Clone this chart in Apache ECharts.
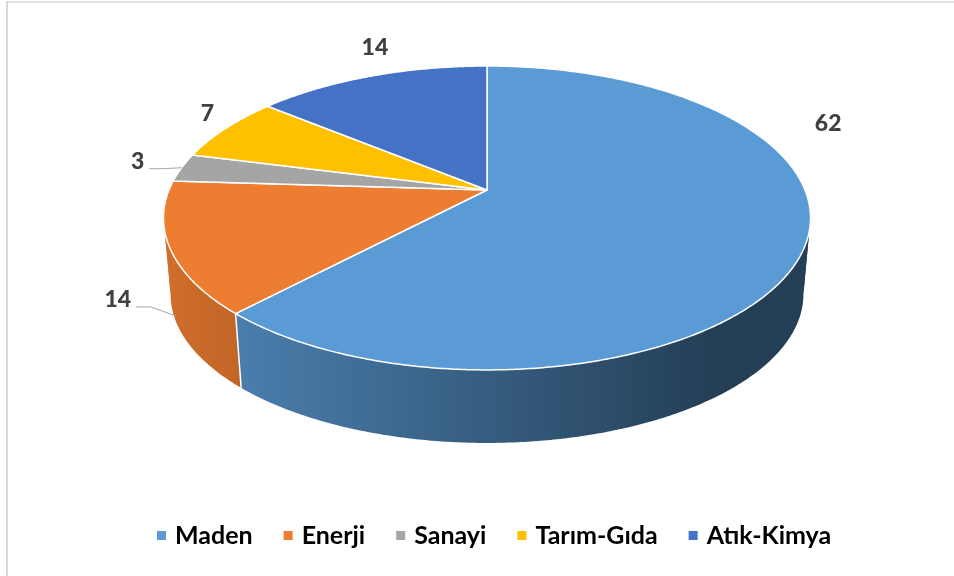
<!DOCTYPE html>
<html>
<head>
<meta charset="utf-8">
<script src="https://cdn.jsdelivr.net/npm/echarts@6/dist/echarts.min.js"></script>
<style>
    html, body { margin: 0; padding: 0; background: #fff; }
    #chart { width: 954px; height: 576px; }
</style>
</head>
<body>
<div id="chart"></div>
<script>
// 数据
const categories = ['Maden', 'Enerji', 'Sanayi', 'Tarım-Gıda', 'Atık-Kimya'];
const values = [62, 14, 3, 7, 14];
const sliceColors = ['#5B9BD5', '#ED7D31', '#A5A5A5', '#FFC000', '#4472C4'];

// label placement relative to the rim point at each slice's mid angle
const labelDx = [24, -52, -44, -18, 4];
const labelDy = [-124, 52, -6, -15, -29];
const leaderAt = [null, 0.9, 0, null, null];

// 3D disc projection
const CX = 487, CY = 190, RX = 318, RY = 146.8, K = 0.184, DROP = 77, SHRINK = 0.978;
const total = values.reduce((a, b) => a + b, 0);
// angles where the rim turns (leftmost / rightmost points)
const TURNS = [Math.acos(-K), 2 * Math.PI - Math.acos(-K)];

function sliceAngles(i) {
    let s = 0;
    for (let j = 0; j < i; j++) s += values[j];
    return [s / total * 2 * Math.PI, (s + values[i]) / total * 2 * Math.PI];
}

function pt(t, bottom) {
    const u = Math.sin(t), v = -Math.cos(t);
    const w = 1 / (1 - K * v);
    const s = bottom ? SHRINK : 1;
    return [CX + RX * u * w * s, CY + (bottom ? DROP : 0) + RY * v * w * s];
}

function arc(a0, a1, bottom) {
    const n = Math.max(2, Math.ceil((a1 - a0) / (Math.PI / 360)));
    const pts = [];
    for (let k = 0; k <= n; k++) pts.push(pt(a0 + (a1 - a0) * k / n, bottom));
    return pts;
}

function shade(hex, f) {
    const n = parseInt(hex.slice(1), 16);
    const r = Math.round(((n >> 16) & 255) * f);
    const g = Math.round(((n >> 8) & 255) * f);
    const b = Math.round((n & 255) * f);
    return 'rgb(' + r + ',' + g + ',' + b + ')';
}

function wallGradient(hex) {
    return new echarts.graphic.LinearGradient(CX - RX * 1.02, 0, CX + RX * 0.73, 0, [
        { offset: 0, color: shade(hex, 0.88) },
        { offset: 1, color: shade(hex, 0.4) }
    ], true);
}

// 侧面
function renderWall(params) {
    const i = params.dataIndex;
    const [a0, a1] = sliceAngles(i);
    const cuts = [a0].concat(TURNS.filter(t => t > a0 && t < a1), [a1]);
    const fill = wallGradient(sliceColors[i]);
    const children = [];
    for (let k = 0; k < cuts.length - 1; k++) {
        const t0 = cuts[k], t1 = cuts[k + 1];
        const vm = -Math.cos((t0 + t1) / 2);
        const pts = arc(t0, t1, false).concat(arc(t0, t1, true).reverse());
        children.push({
            type: 'polygon',
            z2: 2000 + Math.round(vm * 1000),
            shape: { points: pts },
            style: { fill: fill }
        });
    }
    if (-Math.cos(a0) > K) {
        const p = pt(a0, false), q = pt(a0, true);
        children.push({
            type: 'line',
            z2: 3100,
            shape: { x1: p[0], y1: p[1], x2: q[0], y2: q[1] },
            style: { stroke: '#fff', lineWidth: 1.5 }
        });
    }
    return { type: 'group', children: children };
}

// 顶面
function renderTop(params) {
    const i = params.dataIndex;
    const [a0, a1] = sliceAngles(i);
    const points = [[CX, CY]].concat(arc(a0, a1, false));
    return {
        type: 'polygon',
        shape: { points: points },
        style: { fill: sliceColors[i], stroke: '#fff', lineWidth: 1.5, lineJoin: 'round' }
    };
}

// 数据标签
function renderLabel(params) {
    const i = params.dataIndex;
    const [a0, a1] = sliceAngles(i);
    const mid = (a0 + a1) / 2;
    const p = pt(mid, false);
    const x = p[0] + labelDx[i], y = p[1] + labelDy[i];
    const txt = String(values[i]);
    const children = [{
        type: 'text',
        style: {
            text: txt, x: x, y: y, align: 'center', verticalAlign: 'middle',
            fill: '#404040', fontFamily: 'Lato', fontWeight: 900, fontSize: 23
        }
    }];
    if (leaderAt[i] !== null) {
        const q = pt(mid, true);
        const f = leaderAt[i];
        const end = [p[0] + (q[0] - p[0]) * f, p[1] + (q[1] - p[1]) * f];
        const sx = x + txt.length * 6.5 + 5, sy = y + 7;
        children.push({
            type: 'polyline',
            shape: { points: [[sx, sy], [sx + 15, sy], end] },
            style: { stroke: '#a6a6a6', lineWidth: 1, fill: null }
        });
    }
    return { type: 'group', children: children };
}

const chart = echarts.init(document.getElementById('chart'));
chart.setOption({
    animation: false,
    backgroundColor: '#fff',
    graphic: [
        { type: 'line', shape: { x1: 7, y1: 1, x2: 7, y2: 576 }, style: { stroke: '#d9d9d9', lineWidth: 2 } },
        { type: 'line', shape: { x1: 6, y1: 2, x2: 954, y2: 2 }, style: { stroke: '#d9d9d9', lineWidth: 1.5 } }
    ],
    legend: {
        data: categories,
        left: 157,
        top: 523,
        padding: 0,
        icon: 'rect',
        itemWidth: 9,
        itemHeight: 9,
        itemGap: 31,
        selectedMode: false,
        textStyle: {
            fontFamily: 'Lato',
            fontWeight: 'bold',
            fontSize: 25,
            color: '#000',
            padding: [0, 0, 0, 4]
        }
    },
    series: [
        {
            // legend only
            type: 'pie',
            radius: [0, 0],
            center: [CX, CY],
            silent: true,
            label: { show: false },
            labelLine: { show: false },
            data: categories.map((name, i) => ({ name: name, value: values[i], itemStyle: { color: sliceColors[i] } }))
        },
        { type: 'custom', coordinateSystem: 'none', z: 2, silent: true, data: values, renderItem: renderWall },
        { type: 'custom', coordinateSystem: 'none', z: 3, silent: true, data: values, renderItem: renderTop },
        { type: 'custom', coordinateSystem: 'none', z: 4, silent: true, data: values, renderItem: renderLabel }
    ]
});
</script>
</body>
</html>
